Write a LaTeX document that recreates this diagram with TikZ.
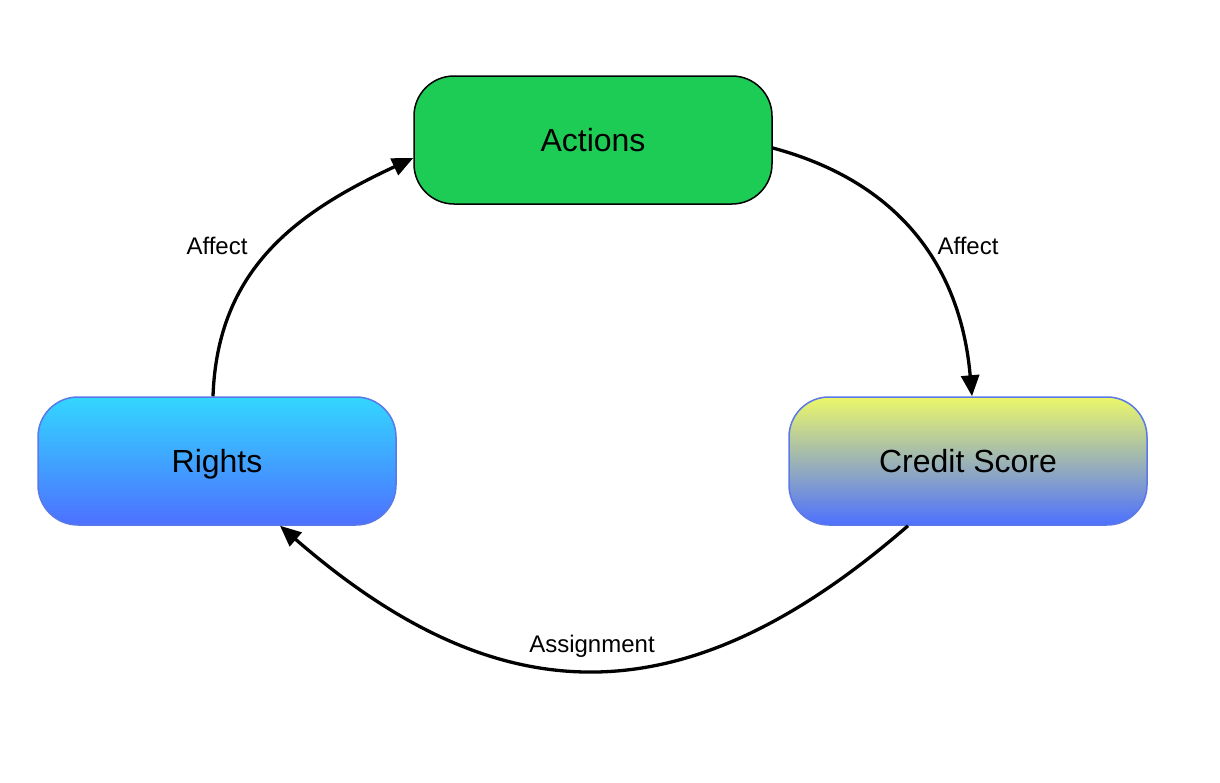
\documentclass[tikz,border=0pt]{standalone}
\usepackage{fontspec}
\setmainfont{Liberation Sans}
\usetikzlibrary{arrows.meta}
\definecolor{actgreen}{RGB}{29,204,85}
\definecolor{cyantop}{RGB}{51,214,255}
\definecolor{bluebot}{RGB}{77,112,255}
\definecolor{yellowtop}{RGB}{235,247,106}
\definecolor{blueborder}{RGB}{90,120,230}
\tikzset{
  boxbase/.style={rounded corners=40pt, minimum width=358pt, minimum height=128pt, inner sep=0pt, text height=23pt, text depth=0pt, font=\fontsize{32}{38}\selectfont},
  greenbox/.style={boxbase, draw=black, line width=1.5pt, fill=actgreen},
  cyanbox/.style={boxbase, draw=blueborder, line width=1.5pt, top color=cyantop, bottom color=bluebot},
  yellowbox/.style={boxbase, draw=blueborder, line width=1.5pt, top color=yellowtop, bottom color=bluebot},
  conn/.style={line width=3.3pt, -{Triangle[length=21pt,width=18pt]}},
  lbl/.style={font=\fontsize{24}{28}\selectfont, inner sep=0pt}
}
\begin{document}
\begin{tikzpicture}[x=1pt,y=1pt]
\useasboundingbox (0,0) rectangle (1220,-782);
\node[greenbox] (A) at (593,-140) {Actions};
\node[cyanbox] (R) at (217,-461) {Rights};
\node[yellowbox] (C) at (968,-461) {Credit Score};
\draw[conn] ([xshift=-4pt]R.north) to[out=88,in=205,looseness=1.05] ([yshift=-18pt]A.west);
\draw[conn] ([yshift=-8pt]A.east) to[out=-15,in=95,looseness=1.05] ([xshift=4pt]C.north);
\draw[conn] ([xshift=-60pt]C.south) to[out=221,in=-41,looseness=1.2] ([xshift=63pt]R.south);
\node[lbl] (l1) at (217,-246) {Affect};
\node[lbl] (l2) at (968,-246) {Affect};
\node[lbl] (l3) at (592,-646) {Assignment};
\end{tikzpicture}
\end{document}
